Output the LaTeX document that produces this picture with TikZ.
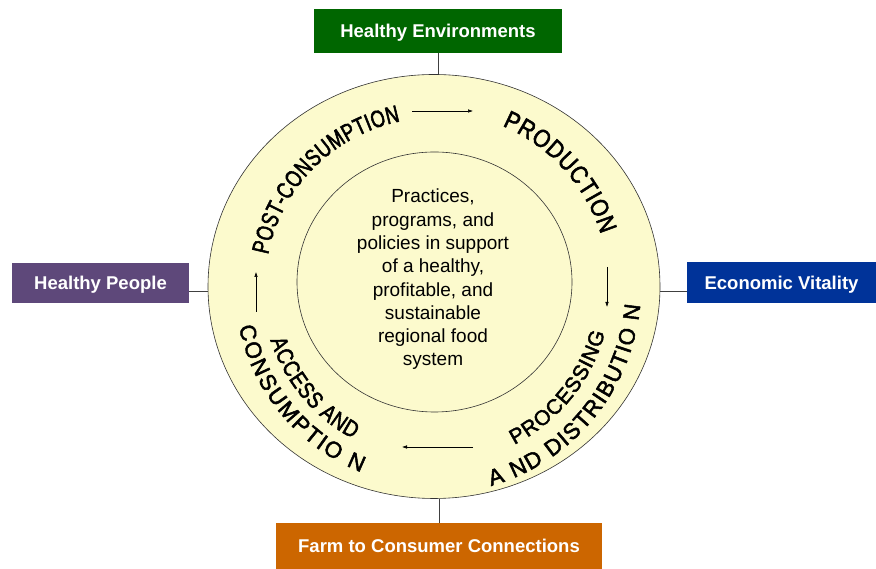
\documentclass[tikz,border=0pt]{standalone}
\usepackage{fontspec}
\setmainfont{Liberation Sans}
\newfontfamily\cfPost[FakeStretch=0.76,FakeBold=2.2]{Liberation Sans}
\newfontfamily\cfProd[FakeStretch=0.86,FakeBold=2.2]{Liberation Sans}
\newfontfamily\cfNorm[FakeBold=2.2]{Liberation Sans}
\newfontfamily\cfAcc[FakeStretch=0.84,FakeBold=2.2]{Liberation Sans}
\usetikzlibrary{decorations.text,arrows.meta,shapes.geometric,calc}
\definecolor{circfill}{RGB}{252,250,205}
\definecolor{hegreen}{RGB}{0,102,0}
\definecolor{hppurple}{RGB}{94,72,122}
\definecolor{evblue}{RGB}{0,51,153}
\definecolor{fcorange}{RGB}{204,102,0}
\begin{document}
\begin{tikzpicture}[x=1pt,y=1pt,
  goal/.style={draw=none, text=white, font=\fontsize{18.5}{20}\selectfont\bfseries, inner sep=0,
    text height=13.2pt, text depth=0pt},
  ring/.style={ellipse, draw=black!80, line width=0.6pt, fill=circfill, inner sep=0},
  cyc/.style={-{Latex[length=5pt,width=3.5pt]}, line width=0.5pt},
  link/.style={draw=black!75, line width=0.6pt},
  curved/.style={decorate, decoration={text along path, text align={fit to path}, text={#1}}}]
\useasboundingbox (0,0) rectangle (876,569);
% rings
\node[ring, minimum width=452, minimum height=424] (outer) at (434,282.5) {};
\node[ring, minimum width=275, minimum height=260] (inner) at (434.5,287) {};
% goal boxes
\node[goal, fill=hegreen, minimum width=248, minimum height=44] (he) at (438,538) {Healthy Environments};
\node[goal, fill=hppurple, minimum width=177, minimum height=40] (hp) at (100.5,286) {Healthy People};
\node[goal, fill=evblue, minimum width=189, minimum height=41] (ev) at (781.5,286.5) {Economic Vitality};
\node[goal, fill=fcorange, minimum width=326, minimum height=46] (fc) at (439,23) {Farm to Consumer Connections};
% links
\draw[link] (he.south) -- (he.south |- outer.north);
\draw[link] (fc.north) -- (fc.north |- outer.south);
\draw[link] ([yshift=-5pt]outer.west) -- ([yshift=-5pt]outer.west -| hp.east);
\draw[link] ([yshift=-5pt]outer.east) -- ([yshift=-5pt]outer.east -| ev.west);
% center text
\node[align=center, font=\fontsize{19}{23.3}\selectfont] (mission) at (433,289.5)
  {Practices,\\programs, and\\policies in support\\of a healthy,\\profitable, and\\sustainable\\regional food\\system};
% curved stage labels
\coordinate (c) at (434,282);
\path[curved={|\cfPost\fontsize{24}{24}\selectfont|POST-CONSUMPTION}]
  ($(c)+(169:169)$) arc[start angle=169, end angle=101.5, radius=169];
\path[curved={|\cfProd\fontsize{25}{25}\selectfont|PRODUCTION}]
  ($(c)+(67:175)$) arc[start angle=67, end angle=17.5, radius=175];
\path[curved={|\cfNorm\fontsize{21}{21}\selectfont|PROCESSING}]
  ($(c)+(-63:177)$) arc[start angle=-63, end angle=-15, radius=177];
\path[curved={|\cfNorm\fontsize{22.5}{22.5}\selectfont|A ND DISTRIBUTIO N}]
  ($(c)+(-74:207)$) arc[start angle=-74, end angle=-5, radius=207];
\path[curved={|\cfAcc\fontsize{23}{23}\selectfont|ACCESS AND}]
  ($(c)+(198:172)$) arc[start angle=198, end angle=242, radius=172];
\path[curved={|\cfNorm\fontsize{22.5}{22.5}\selectfont|CONSUMPTIO N}]
  ($(c)+(191.5:199)$) arc[start angle=191.5, end angle=248.5, radius=199];
% cycle arrows
\coordinate (a1) at (412,458); \coordinate (a2) at (473,458);
\coordinate (b1) at (607,302); \coordinate (b2) at (607,262);
\coordinate (d1) at (473,122); \coordinate (d2) at (402,122);
\coordinate (e1) at (256,257); \coordinate (e2) at (256,297);
\draw[cyc] (a1) -- (a2);
\draw[cyc] (b1) -- (b2);
\draw[cyc] (d1) -- (d2);
\draw[cyc] (e1) -- (e2);
\end{tikzpicture}
\end{document}
